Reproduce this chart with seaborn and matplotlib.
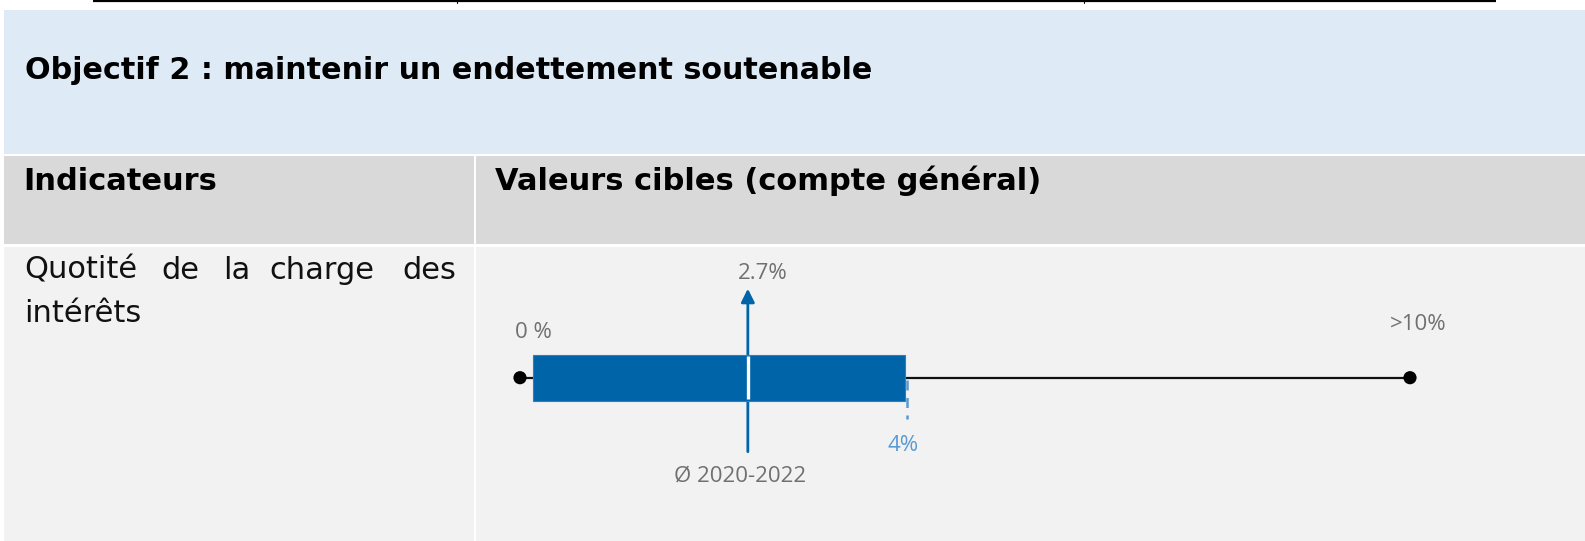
import matplotlib
matplotlib.use("Agg")
import matplotlib.pyplot as plt
import seaborn as sns
import pandas as pd
from matplotlib.patches import Rectangle

# ---------------- data ----------------
title = "Objectif 2 : maintenir un endettement soutenable"
header_labels = ["Indicateurs", "Valeurs cibles (compte général)"]
indicator_words = ["Quotité", "de", "la", "charge", "des"]
indicator_line2 = "intérêts"
scale_values = [0.0, 10.0]            # ends of the scale (black dots)
scale_labels = ["0 %", ">10%"]
target_range = [0.15, 4.33]           # blue target band
target_mark = 4.35                    # dashed 4 % tick
target_label = "4%"
average_value = 2.56                  # arrow position
average_label = "2.7%"
average_caption = "Ø 2020-2022"

# ---------------- style ----------------
sns.set_theme(style="white")
plt.rcParams["font.family"] = ["DejaVu Sans"]

W, H = 1585, 541
fig = plt.figure(figsize=(W / 100, H / 100), dpi=100)
fig.patch.set_facecolor("white")

lay = fig.add_axes([0, 0, 1, 1])
lay.set_xlim(0, W)
lay.set_ylim(H, 0)
lay.axis("off")

BAND = "#deeaf6"
HEAD = "#d9d9d9"
BODY = "#f2f2f2"
BLUE = "#0064a8"
LBLUE = "#5a9ad2"
GREY = "#707070"

# top rule of the previous table
lay.plot([93, 1496], [1, 1], color="black", lw=1.6, solid_capstyle="butt")
for xt in (457, 1084):
    lay.plot([xt, xt], [0, 3], color="black", lw=0.8)

lay.add_patch(Rectangle((4, 10), W - 4, 144, color=BAND, lw=0))
lay.add_patch(Rectangle((4, 156), W - 4, 88, color=HEAD, lw=0))
lay.add_patch(Rectangle((4, 247), W - 4, H - 247, color=BODY, lw=0))
lay.add_patch(Rectangle((474, 156), 2.2, H - 156, color="white", lw=0))

lay.text(25, 79, title, fontsize=21.7, fontweight="bold", color="black",
         va="baseline", ha="left")
lay.text(23, 190, header_labels[0], fontsize=22, fontweight="bold",
         color="black", va="baseline", ha="left")
lay.text(495, 190, header_labels[1], fontsize=22, fontweight="bold",
         color="black", va="baseline", ha="left")

word_x = [24, 161, 223, 269, 402]
for wx, w in zip(word_x, indicator_words):
    lay.text(wx, 279, w, fontsize=22, color="#111111", va="baseline", ha="left")
lay.text(24, 322, indicator_line2, fontsize=22, color="#111111",
         va="baseline", ha="left")

# ---------------- chart ----------------
ch = fig.add_axes([520 / W, 0, 890 / W, (H - 247) / H])
ch.set_xlim(0, 10)
ch.set_ylim(H - 377.7, 247 - 377.7)
ch.axis("off")
ch.patch.set_alpha(0)

df = pd.DataFrame({"x": scale_values, "y": [0.0, 0.0]})
sns.lineplot(data=df, x="x", y="y", ax=ch, color="#111111", lw=1.6,
             estimator=None, sort=False, zorder=1)
sns.scatterplot(data=df, x="x", y="y", ax=ch, color="black", s=90,
                edgecolor="none", zorder=5, clip_on=False)
for coll in ch.collections:
    coll.set_clip_on(False)

ch.annotate("", xy=(average_value, -89), xytext=(average_value, 74),
            arrowprops=dict(arrowstyle="-|>", color=BLUE, lw=2.0,
                            mutation_scale=20, shrinkA=0, shrinkB=0),
            zorder=2)
ch.barh(0, target_range[1] - target_range[0], left=target_range[0],
        height=46, color=BLUE, edgecolor="#2f7fbf", linewidth=0.8, zorder=3)
ch.vlines(average_value, -22, 21, color="white", lw=2.4, zorder=4)
ch.vlines(target_mark, 2, 41, color=LBLUE, lw=1.8, linestyles=(0, (4, 3)),
          zorder=2)

lab_font = ["Open Sans", "DejaVu Sans"]
lay.text(533, 338, scale_labels[0], fontsize=16, color=GREY, ha="center",
         va="baseline", family=lab_font)
lay.text(1418, 330, scale_labels[1], fontsize=16, color=GREY, ha="center",
         va="baseline", family=lab_font)
lay.text(763, 279, average_label, fontsize=16, color=GREY, ha="center",
         va="baseline", family=lab_font)
lay.text(903, 451, target_label, fontsize=16, color=LBLUE, ha="center",
         va="baseline", family=lab_font)
lay.text(740, 482, average_caption, fontsize=16, color=GREY, ha="center",
         va="baseline", family=lab_font)

fig.savefig("out.png", dpi=100, facecolor="white")
